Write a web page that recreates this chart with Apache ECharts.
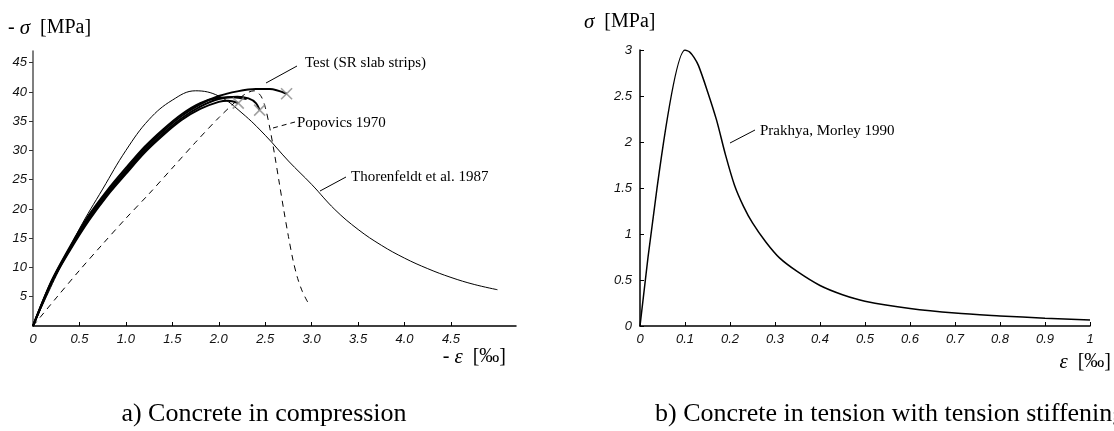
<!DOCTYPE html>
<html><head><meta charset="utf-8">
<script src="https://cdn.jsdelivr.net/npm/echarts@6/dist/echarts.min.js"></script>
<style>html,body{margin:0;padding:0;background:#fff}#c{width:1114px;height:431px}</style>
</head><body><div id="c"></div>
<script>
// ---------- Data ----------
// a) compression: strain [‰] vs stress [MPa]
const thorX = [0, 0.25, 0.5, 0.75, 1.0, 1.25, 1.5, 1.75, 2.0, 2.25, 2.5, 2.75, 3.0, 3.25, 3.5, 3.75, 4.0, 4.25, 4.5, 4.75, 5.0];
const thorY = [0, 8.6, 16.6, 23.4, 30.0, 35.3, 38.6, 40.2, 39.3, 36.4, 32.6, 28.2, 24.2, 19.9, 16.5, 13.8, 11.6, 9.8, 8.3, 7.1, 6.2];

const popX = [0, 0.25, 0.5, 0.75, 1.0, 1.25, 1.5, 1.75, 2.0, 2.2, 2.3, 2.38, 2.45, 2.5, 2.55, 2.6, 2.65, 2.7, 2.75, 2.8, 2.85, 2.9, 2.95, 2.97];
const popY = [0, 4.8, 9.5, 14.0, 18.4, 22.6, 27.0, 31.4, 35.6, 38.6, 39.8, 40.2, 39.4, 37.4, 33.8, 29.4, 24.6, 19.8, 15.3, 11.2, 8.1, 5.9, 4.3, 3.8];

const test1X = [0, 0.2, 0.4, 0.6, 0.8, 1.0, 1.2, 1.4, 1.6, 1.8, 2.0, 2.2, 2.4, 2.55, 2.73];
const test1Y = [0, 7.6, 13.4, 18.6, 22.9, 26.6, 30.3, 33.3, 35.9, 37.9, 39.3, 40.1, 40.5, 40.5, 39.7];
const test2X = [0, 0.2, 0.4, 0.6, 0.8, 1.0, 1.2, 1.4, 1.6, 1.8, 2.0, 2.2, 2.32, 2.4, 2.44];
const test2Y = [0, 7.5, 13.2, 18.3, 22.6, 26.3, 29.9, 32.9, 35.5, 37.5, 38.8, 39.2, 38.9, 38.1, 36.9];
const test3X = [0, 0.2, 0.4, 0.6, 0.8, 1.0, 1.2, 1.4, 1.6, 1.8, 2.0, 2.1, 2.21];
const test3Y = [0, 7.4, 13.0, 18.0, 22.3, 26.0, 29.6, 32.6, 35.2, 37.1, 38.3, 38.5, 38.1];
const test4X = [0, 0.2, 0.4, 0.6, 0.8, 1.0, 1.2, 1.4, 1.6, 1.8, 2.0, 2.15, 2.3];
const test4Y = [0, 7.7, 13.6, 18.9, 23.2, 27.0, 30.6, 33.6, 36.2, 38.1, 39.0, 39.1, 38.8];

const failX = [2.21, 2.44, 2.73];
const failY = [38.1, 36.9, 39.7];

// b) tension with tension stiffening
const tensX = [0, 0.1, 0.11, 0.12, 0.13, 0.15, 0.17, 0.19, 0.21, 0.23, 0.25, 0.28, 0.31, 0.35, 0.4, 0.45, 0.5, 0.6, 0.7, 0.8, 0.9, 1.0];
const tensY = [0, 3.0, 2.98, 2.92, 2.83, 2.55, 2.24, 1.86, 1.53, 1.30, 1.12, 0.91, 0.74, 0.59, 0.44, 0.34, 0.27, 0.19, 0.14, 0.11, 0.085, 0.065];

// tick labels
const aXTicks = [0, 0.5, 1.0, 1.5, 2.0, 2.5, 3.0, 3.5, 4.0, 4.5];
const aXLabels = ['0', '0.5', '1.0', '1.5', '2.0', '2.5', '3.0', '3.5', '4.0', '4.5'];
const aYTicks = [5, 10, 15, 20, 25, 30, 35, 40, 45];
const aYLabels = ['5', '10', '15', '20', '25', '30', '35', '40', '45'];
const bXTicks = [0, 0.1, 0.2, 0.3, 0.4, 0.5, 0.6, 0.7, 0.8, 0.9, 1];
const bXLabels = ['0', '0.1', '0.2', '0.3', '0.4', '0.5', '0.6', '0.7', '0.8', '0.9', '1'];
const bYTicks = [0, 0.5, 1, 1.5, 2, 2.5, 3];
const bYLabels = ['0', '0.5', '1', '1.5', '2', '2.5', '3'];

// texts
const titleA = 'a) Concrete in compression';
const titleB = 'b) Concrete in tension with tension stiffening';
const lblTest = 'Test (SR slab strips)';
const lblPop = 'Popovics 1970';
const lblThor = 'Thorenfeldt et al. 1987';
const lblPrak = 'Prakhya, Morley 1990';

// ---------- Chart ----------
function zip(xs, ys) { return xs.map((x, i) => [x, ys[i]]); }
function lookup(ticks, labels) {
  return function (v) {
    for (let i = 0; i < ticks.length; i++) if (Math.abs(ticks[i] - v) < 1e-6) return labels[i];
    return '';
  };
}
const labelFont = { fontFamily: 'Liberation Sans', fontStyle: 'italic', fontSize: 13, color: '#111' };
const serif = 'Liberation Serif';

const chart = echarts.init(document.getElementById('c'), null, { renderer: 'canvas' });

function testSeries(xs, ys) {
  return {
    type: 'line', xAxisIndex: 0, yAxisIndex: 0, data: zip(xs, ys), showSymbol: false,
    smooth: 0.3,
    lineStyle: { color: '#000', width: 2 }, silent: true, z: 3
  };
}
const axTitleRich = { s: { fontStyle: 'italic', fontFamily: serif, fontSize: 21, fill: '#000' } };

chart.setOption({
  animation: false,
  backgroundColor: '#fff',
  grid: [
    { left: 33, top: 51, width: 483, height: 275 },
    { left: 640, top: 50, width: 450, height: 276 }
  ],
  xAxis: [
    {
      gridIndex: 0, type: 'value', min: 0, max: 5.2, interval: 0.5,
      splitLine: { show: false },
      axisLine: { lineStyle: { color: '#000', width: 1.5 } },
      axisTick: { inside: true, length: 4, lineStyle: { color: '#000' }, customValues: aXTicks },
      axisLabel: Object.assign({ margin: 7, formatter: lookup(aXTicks, aXLabels), customValues: aXTicks }, labelFont)
    },
    {
      gridIndex: 1, type: 'value', min: 0, max: 1, interval: 0.1,
      splitLine: { show: false },
      axisLine: { lineStyle: { color: '#000', width: 1.5 } },
      axisTick: { inside: true, length: 4, lineStyle: { color: '#000' } },
      axisLabel: Object.assign({ margin: 7, formatter: lookup(bXTicks, bXLabels), showMaxLabel: true }, labelFont)
    }
  ],
  yAxis: [
    {
      gridIndex: 0, type: 'value', min: 0, max: 47, interval: 5,
      splitLine: { show: false },
      axisLine: { show: true, lineStyle: { color: '#555', width: 1.5 } },
      axisTick: { show: true, inside: false, length: 4, lineStyle: { color: '#333' }, customValues: aYTicks },
      axisLabel: Object.assign({ margin: 6, formatter: lookup(aYTicks, aYLabels), customValues: aYTicks }, labelFont)
    },
    {
      gridIndex: 1, type: 'value', min: 0, max: 3, interval: 0.5,
      splitLine: { show: false },
      axisLine: { show: true, lineStyle: { color: '#000', width: 1.5 } },
      axisTick: { show: true, inside: true, length: 4, lineStyle: { color: '#000' } },
      axisLabel: Object.assign({ margin: 8, formatter: lookup(bYTicks, bYLabels) }, labelFont)
    }
  ],
  series: [
    {
      type: 'line', xAxisIndex: 0, yAxisIndex: 0, data: zip(thorX, thorY), showSymbol: false,
      smooth: 0.4, lineStyle: { color: '#000', width: 1 }, silent: true, z: 2
    },
    {
      type: 'line', xAxisIndex: 0, yAxisIndex: 0, data: zip(popX, popY), showSymbol: false,
      smooth: 0.3,
      lineStyle: { color: '#000', width: 1, type: [6, 5] }, silent: true, z: 2
    },
    testSeries(test1X, test1Y),
    testSeries(test2X, test2Y),
    testSeries(test3X, test3Y),
    testSeries(test4X, test4Y),
    {
      type: 'scatter', xAxisIndex: 0, yAxisIndex: 0, data: zip(failX, failY),
      symbol: 'path://M0,0L10,10M10,0L0,10', symbolSize: 11,
      itemStyle: { color: 'none', borderColor: '#8a8a8a', borderWidth: 1.6 }, silent: true, z: 5
    },
    {
      type: 'line', xAxisIndex: 1, yAxisIndex: 1, data: zip(tensX, tensY), showSymbol: false,
      smooth: 0.3,
      lineStyle: { color: '#000', width: 1.5 }, silent: true
    }
  ],
  graphic: [
    { type: 'text', x: 8, y: 28, style: { text: '- {s|σ}  [MPa]', font: '20px "Liberation Serif"', fill: '#000', verticalAlign: 'middle', rich: axTitleRich } },
    { type: 'text', x: 584, y: 22, style: { text: '{s|σ}  [MPa]', font: '20px "Liberation Serif"', fill: '#000', verticalAlign: 'middle', rich: axTitleRich } },
    { type: 'text', x: 506, y: 357, style: { text: '- {s|ε}  [‰]', font: '20px "Liberation Serif"', fill: '#000', align: 'right', verticalAlign: 'middle', rich: axTitleRich } },
    { type: 'text', x: 1111, y: 362, style: { text: '{s|ε}  [‰]', font: '20px "Liberation Serif"', fill: '#000', align: 'right', verticalAlign: 'middle', rich: axTitleRich } },

    { type: 'text', x: 305, y: 63, style: { text: lblTest, font: '15px "Liberation Serif"', fill: '#000', verticalAlign: 'middle' } },
    { type: 'line', shape: { x1: 266, y1: 83, x2: 297, y2: 66 }, style: { stroke: '#000', lineWidth: 1 } },
    { type: 'text', x: 297, y: 123, style: { text: lblPop, font: '15px "Liberation Serif"', fill: '#000', verticalAlign: 'middle' } },
    { type: 'line', shape: { x1: 273, y1: 128, x2: 295, y2: 122 }, style: { stroke: '#000', lineWidth: 1, lineDash: [5, 4] } },
    { type: 'text', x: 351, y: 177, style: { text: lblThor, font: '15px "Liberation Serif"', fill: '#000', verticalAlign: 'middle' } },
    { type: 'line', shape: { x1: 320, y1: 191, x2: 346, y2: 177 }, style: { stroke: '#000', lineWidth: 1 } },
    { type: 'text', x: 760, y: 131, style: { text: lblPrak, font: '15px "Liberation Serif"', fill: '#000', verticalAlign: 'middle' } },
    { type: 'line', shape: { x1: 730, y1: 143, x2: 755, y2: 130 }, style: { stroke: '#000', lineWidth: 1 } },

    { type: 'text', x: 264, y: 414, style: { text: titleA, font: '26px "Liberation Serif"', fill: '#000', align: 'center', verticalAlign: 'middle' } },
    { type: 'text', x: 655, y: 414, style: { text: titleB, font: '26px "Liberation Serif"', fill: '#000', align: 'left', verticalAlign: 'middle' } }
  ]
});
</script>
</body></html>
